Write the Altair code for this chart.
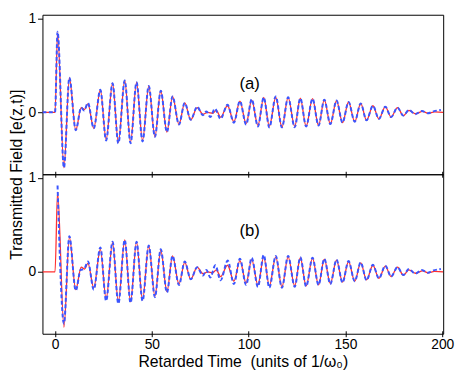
import altair as alt
import pandas as pd

# ---------------- data ----------------
red_t = [-6.5, 0.0, 1.3, 4.6, 7.4, 10.7, 13.5, 15.2, 17.0, 20.0, 23.4, 26.4, 29.7, 32.7,
         36.0, 39.0, 42.1, 45.2, 48.4, 51.6, 54.6, 57.8, 60.7, 64.0, 67.0, 70.1, 73.4,
         76.4, 78.9, 81.4, 83.3, 85.5, 89.1, 92.4, 95.5, 98.7, 101.6, 104.8, 107.8,
         110.7, 114.0, 117.2, 120.4, 123.8, 126.7, 129.7, 133.0, 136.1, 139.1, 142.2,
         145.4, 148.5, 151.6, 154.8, 157.9, 160.9, 164.2, 167.3, 170.6, 173.6, 176.9,
         179.9, 182.8, 186.1, 189.9, 192.8, 196.0, 200.5]
red_v = [0.0, 0.0, 0.85, -0.59, 0.37, -0.19, 0.05, 0.03, 0.09, -0.17, 0.24, -0.29, 0.31, -0.32,
         0.34, -0.32, 0.32, -0.30, 0.28, -0.26, 0.23, -0.21, 0.17, -0.13, 0.10, -0.08, 0.05,
         -0.02, 0.0, -0.01, 0.02, -0.05, 0.07, -0.10, 0.12, -0.12, 0.13, -0.14, 0.16,
         -0.15, 0.16, -0.16, 0.16, -0.15, 0.15, -0.15, 0.145, -0.14, 0.135, -0.125,
         0.125, -0.11, 0.11, -0.10, 0.095, -0.085, 0.07, -0.07, 0.06, -0.05, 0.05,
         -0.035, 0.02, -0.015, 0.01, -0.01, 0.005, 0.0]

blue_a_t = [-6.5, 0.0, 1.3, 4.6, 7.4, 10.7, 13.5, 15.0, 17.0, 20.0, 23.4, 26.4, 29.7, 32.7,
            36.0, 39.0, 42.1, 45.2, 48.4, 51.6, 54.6, 57.8, 60.7, 64.0, 67.0, 70.1, 73.4,
            76.4, 78.2, 80.2, 82.6, 85.5, 89.1, 92.4, 95.5, 98.7, 101.6, 104.8, 107.8,
            110.7, 114.0, 117.2, 120.4, 123.8, 126.7, 129.7, 133.0, 136.1, 139.1, 142.2,
            145.4, 148.5, 151.6, 154.8, 157.9, 160.9, 164.2, 167.3, 170.6, 173.6, 176.9,
            179.9, 182.8, 186.1, 189.5, 192.5, 195.5, 199.3]
blue_a_v = [0.0, 0.0, 0.86, -0.59, 0.37, -0.19, 0.05, 0.02, 0.10, -0.17, 0.24, -0.30, 0.31, -0.33,
            0.34, -0.33, 0.32, -0.31, 0.28, -0.26, 0.23, -0.21, 0.17, -0.13, 0.10, -0.08, 0.06,
            -0.03, 0.01, -0.05, 0.04, -0.07, 0.08, -0.11, 0.12, -0.13, 0.14, -0.15, 0.16,
            -0.16, 0.17, -0.16, 0.16, -0.16, 0.15, -0.15, 0.145, -0.14, 0.135, -0.125,
            0.125, -0.11, 0.11, -0.10, 0.095, -0.085, 0.07, -0.07, 0.06, -0.05, 0.05,
            -0.035, 0.025, -0.02, 0.015, -0.01, 0.01, 0.025]

blue_b_t = [1.3, 4.6, 7.4, 10.7, 13.2, 15.0, 17.0, 20.0, 23.4, 26.4, 29.7, 32.7,
            36.0, 39.0, 42.1, 45.2, 48.4, 51.6, 54.6, 57.8, 60.7, 64.0, 67.0, 70.1, 73.4,
            76.4, 78.2, 80.2, 82.8, 85.5, 89.2, 92.4, 95.5, 98.7, 101.6, 104.8, 107.8,
            110.7, 114.0, 117.2, 120.4, 123.8, 126.7, 129.7, 133.0, 136.1, 139.1, 142.2,
            145.4, 148.5, 151.6, 154.8, 157.9, 160.9, 164.2, 167.3, 170.6, 173.6, 176.9,
            179.9, 182.8, 186.1, 189.5, 192.5, 195.5, 199.3]
blue_b_v = [0.92, -0.55, 0.38, -0.20, 0.02, 0.03, 0.11, -0.19, 0.26, -0.31, 0.32, -0.34,
            0.34, -0.33, 0.32, -0.31, 0.28, -0.27, 0.24, -0.22, 0.17, -0.14, 0.11, -0.08, 0.05,
            -0.04, 0.02, -0.06, 0.07, -0.09, 0.12, -0.13, 0.14, -0.14, 0.15, -0.16, 0.18,
            -0.17, 0.17, -0.17, 0.17, -0.16, 0.155, -0.155, 0.15, -0.14, 0.14, -0.13,
            0.13, -0.115, 0.115, -0.10, 0.10, -0.09, 0.075, -0.07, 0.065, -0.05, 0.05,
            -0.035, 0.03, -0.02, 0.02, -0.01, 0.015, 0.03]

x_ticks = [0, 50, 100, 150, 200]
y_ticks = [0, 1]
x_title = "Retarded Time\u00a0 (units of 1/\u03c9\u2080)"
y_title = "Transmitted Field [e(z,t)]"
panel_labels = ["(a)", "(b)"]

# ---------------- chart ----------------
FONT = "Liberation Sans"
W, H = 407, 162
XDOM = [-6.5, 200.5]
YDOM = [-0.66, 1.04]
RED = "#ff3030"
BLUE = "#3a55ff"


def panel(rt, rv, bt, bv, label, ly, bottom):
    red_df = pd.DataFrame({"t": rt, "v": rv})
    blue_df = pd.DataFrame({"t": bt, "v": bv})
    xaxis = alt.Axis(values=x_ticks, labels=bottom, title=x_title if bottom else None,
                     tickSize=6, offset=-3, domain=False, grid=False, format="d",
                     labelFontSize=14, titleFontSize=16, labelPadding=1,
                     titlePadding=2, labelFlush=False, titleFontWeight="normal")
    if bottom:
        yaxis = alt.Axis(values=y_ticks, title=None, tickSize=5, domain=False, grid=False,
                         labelFontSize=14, labelPadding=2, format="d")
    else:
        yaxis = alt.Axis(values=y_ticks, title=y_title, tickSize=5, domain=False, grid=False,
                         labelFontSize=14, labelPadding=2, titleFontSize=16, format="d",
                         titleX=-18, titleY=H, titleFontWeight="normal")
    x = alt.X("t:Q", scale=alt.Scale(domain=XDOM, nice=False, zero=False), axis=xaxis)
    y = alt.Y("v:Q", scale=alt.Scale(domain=YDOM, nice=False, zero=False), axis=yaxis)
    red = alt.Chart(red_df).mark_line(color=RED, strokeWidth=1.3, interpolate="monotone",
                                      clip=True).encode(x=x, y=y)
    blue = alt.Chart(blue_df).mark_line(color=BLUE, strokeWidth=2, strokeDash=[4, 2.5],
                                        interpolate="monotone", clip=True).encode(x=x, y=y)
    txt = alt.Chart(pd.DataFrame({"t": [100.5], "v": [ly], "s": [label]})).mark_text(
        font=FONT, fontSize=17, color="black").encode(
        x=alt.X("t:Q", scale=alt.Scale(domain=XDOM, nice=False, zero=False)),
        y=alt.Y("v:Q", scale=alt.Scale(domain=YDOM, nice=False, zero=False)),
        text="s:N")
    return alt.layer(red, blue, txt).properties(width=W, height=H)


top = panel(red_t, red_v, blue_a_t, blue_a_v, panel_labels[0], 0.30, False)
bot = panel(red_t, red_v, blue_b_t, blue_b_v, panel_labels[1], 0.43, True)

chart = alt.vconcat(top, bot, spacing=0, bounds="flush", padding=0,
                    background="white").configure_view(
    stroke="black", strokeWidth=1
).configure_axis(
    labelFont=FONT, titleFont=FONT, labelColor="black", titleColor="black",
    tickColor="black", titleFontWeight="normal"
)

chart.save("out.html", embed_options={"renderer": "svg", "actions": False})
